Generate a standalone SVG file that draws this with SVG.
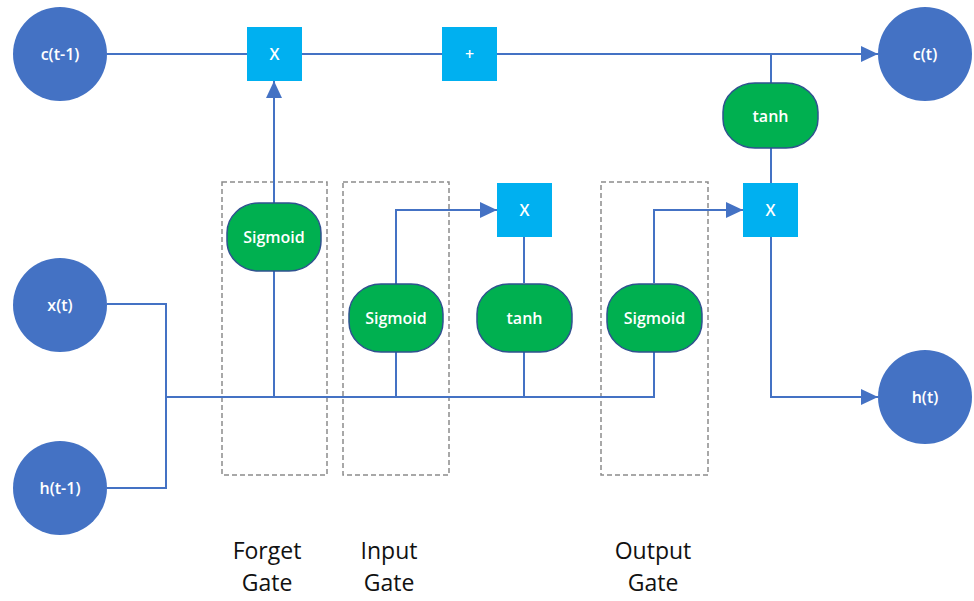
<svg xmlns="http://www.w3.org/2000/svg" width="974" height="601" viewBox="0 0 974 601">
<style>
.circ{fill:#4472C4}
.op{fill:#00B0F0}
.act{fill:#00B050;stroke:#2F528F;stroke-width:1.5}
.gate{fill:none;stroke:#8C8C8C;stroke-width:1.5;stroke-dasharray:5,3}
.wire{fill:none;stroke:#4472C4;stroke-width:2}
.t{font-family:"Open Sans","Liberation Sans",sans-serif;font-size:16px;font-weight:600;fill:#fff;text-anchor:middle;dominant-baseline:central}
.lbl{font-family:"Open Sans","Liberation Sans",sans-serif;font-size:23px;fill:#111;text-anchor:middle}
</style>
<defs>
<marker id="ah" markerUnits="userSpaceOnUse" markerWidth="18" markerHeight="16" refX="17" refY="8" orient="auto">
<path d="M0,0 L17,8 L0,16 Z" fill="#4472C4"/>
</marker>
</defs>
<rect width="974" height="601" fill="#fff"/>
<g id="gates">
<rect id="forget-gate" class="gate" x="222" y="182" width="105" height="293"/>
<rect id="input-gate" class="gate" x="343" y="182" width="106" height="293"/>
<rect id="output-gate" class="gate" x="601" y="182" width="107" height="293"/>
</g>
<g id="connectors">
<line class="wire" x1="107" y1="54" x2="247" y2="54"/>
<line class="wire" x1="302" y1="54" x2="442" y2="54"/>
<line class="wire" x1="497" y1="54" x2="878" y2="54" marker-end="url(#ah)"/>
<line class="wire" x1="274" y1="203" x2="274" y2="81" marker-end="url(#ah)"/>
<line class="wire" x1="771" y1="54" x2="771" y2="83"/>
<line class="wire" x1="771" y1="148" x2="771" y2="183"/>
<polyline class="wire" points="771,237 771,397 878,397" marker-end="url(#ah)"/>
<polyline class="wire" points="107,304 166,304 166,488 107,488"/>
<polyline class="wire" points="166,397 654,397 654,352"/>
<line class="wire" x1="274" y1="397" x2="274" y2="271"/>
<line class="wire" x1="396" y1="397" x2="396" y2="352"/>
<line class="wire" x1="524" y1="397" x2="524" y2="352"/>
<polyline class="wire" points="396,284 396,210 497,210" marker-end="url(#ah)"/>
<line class="wire" x1="524" y1="237" x2="524" y2="283"/>
<polyline class="wire" points="654,283 654,210 743,210" marker-end="url(#ah)"/>
</g>
<g id="c-prev"><circle class="circ" cx="60" cy="54" r="47"/><text class="t" x="60" y="54">c(t-1)</text></g>
<g id="x-t"><circle class="circ" cx="60" cy="305" r="47"/><text class="t" x="60" y="305">x(t)</text></g>
<g id="h-prev"><circle class="circ" cx="60" cy="488" r="47"/><text class="t" x="60" y="488">h(t-1)</text></g>
<g id="c-t"><circle class="circ" cx="925" cy="54" r="47"/><text class="t" x="925" y="54">c(t)</text></g>
<g id="h-t"><circle class="circ" cx="925" cy="397" r="47"/><text class="t" x="925" y="397">h(t)</text></g>
<g id="mul-forget"><rect class="op" x="247" y="27" width="55" height="54"/><text class="t" x="274.5" y="54">X</text></g>
<g id="add"><rect class="op" x="442" y="27" width="55" height="54"/><text class="t" x="469.5" y="54">+</text></g>
<g id="mul-input"><rect class="op" x="497" y="183" width="55" height="54"/><text class="t" x="524.5" y="210">X</text></g>
<g id="mul-output"><rect class="op" x="743" y="183" width="55" height="54"/><text class="t" x="770.5" y="210">X</text></g>
<g id="sig-forget"><rect class="act" x="227" y="203" width="94" height="68" rx="32" ry="30"/><text class="t" x="274" y="237">Sigmoid</text></g>
<g id="sig-input"><rect class="act" x="349" y="284" width="94" height="68" rx="32" ry="30"/><text class="t" x="396" y="318">Sigmoid</text></g>
<g id="tanh-input"><rect class="act" x="477" y="284" width="95" height="68" rx="32" ry="30"/><text class="t" x="524.5" y="318">tanh</text></g>
<g id="sig-output"><rect class="act" x="607" y="284" width="95" height="68" rx="32" ry="30"/><text class="t" x="654.5" y="318">Sigmoid</text></g>
<g id="tanh-cell"><rect class="act" x="723" y="83" width="95" height="65" rx="32" ry="29"/><text class="t" x="770.5" y="115.5">tanh</text></g>
<g id="labels">
<text class="lbl" x="267" y="559">Forget</text><text class="lbl" x="267" y="591">Gate</text>
<text class="lbl" x="389" y="559">Input</text><text class="lbl" x="389" y="591">Gate</text>
<text class="lbl" x="653" y="559">Output</text><text class="lbl" x="653" y="591">Gate</text>
</g>
</svg>
